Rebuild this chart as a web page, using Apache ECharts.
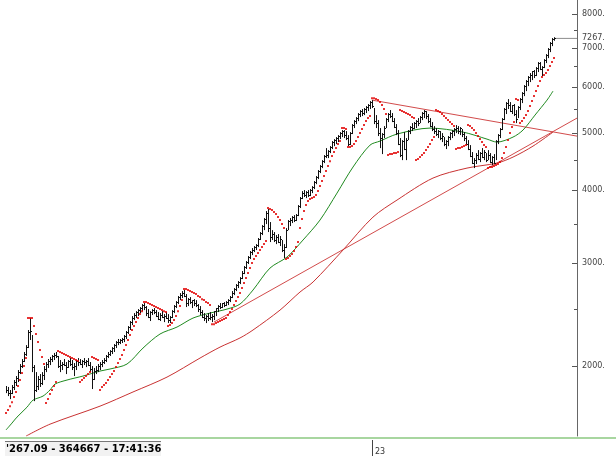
<!DOCTYPE html>
<html><head><meta charset="utf-8">
<script src="https://cdn.jsdelivr.net/npm/echarts@6.0.0/dist/echarts.min.js"></script>
<style>html,body{margin:0;padding:0;background:#fff}#c{width:616px;height:460px}</style>
</head><body><div id="c"></div>
<script>
// ---- data ----
const highs = [
1849,1842,1820,1856,1893,1923,1969,2016,2056,2114,
2172,2305,2416,2260,2008,1953,1923,1938,1953,2000,
2032,2056,2073,2089,2106,2114,2081,2048,2032,2056,
2032,2048,2064,2048,2024,2048,2064,2056,2048,2064,
2048,2064,2032,2000,1985,2000,2016,2032,2048,2064,
2089,2114,2130,2155,2181,2207,2225,2225,2234,2260,
2296,2341,2388,2435,2464,2483,2503,2523,2553,2563,
2533,2503,2483,2503,2513,2493,2474,2464,2483,2454,
2474,2454,2435,2493,2543,2583,2635,2666,2687,2698,
2656,2614,2624,2593,2603,2593,2553,2533,2493,2464,
2445,2464,2474,2454,2483,2513,2543,2563,2563,2573,
2583,2603,2635,2687,2719,2762,2795,2839,2908,2965,
3024,3084,3146,3183,3208,3233,3311,3390,3484,3582,
3682,3711,3526,3416,3390,3350,3363,3337,3285,3233,
3443,3554,3582,3610,3624,3639,3770,3891,3983,3999,
3983,3999,4015,4062,4144,4226,4327,4413,4500,4590,
4718,4681,4755,4850,4888,4927,4966,5025,5065,5065,
5045,4966,5025,5186,5268,5331,5416,5480,5502,5524,
5567,5611,5677,5699,5524,5373,5268,5105,5005,5145,
5310,5416,5480,5416,5310,5186,5065,4908,4869,5025,
4908,5065,5145,5206,5227,5268,5310,5352,5437,5480,
5459,5395,5310,5227,5145,5105,5065,5045,5005,4927,
4869,4947,5025,5065,5105,5165,5145,5125,5085,5025,
4947,4869,4774,4645,4536,4626,4681,4645,4718,4681,
4626,4681,4626,4572,4608,4869,4986,5105,5310,5524,
5655,5722,5655,5589,5611,5480,5567,5745,5882,6046,
6167,6265,6340,6390,6415,6491,6620,6620,6516,6698,
6831,6995,7163,7276,7300];
const lows = [
1798,1777,1756,1791,1820,1849,1878,1938,1985,2032,
2081,2147,2216,1953,1742,1806,1820,1842,1856,1893,
1953,1985,2008,2032,2048,2064,1985,1953,1969,2000,
1938,1985,2000,1969,1923,1969,2000,2008,1985,2008,
1992,2000,1953,1827,1893,1938,1953,1969,1992,2016,
2032,2064,2081,2097,2114,2147,2172,2181,2190,2198,
2225,2269,2305,2350,2397,2416,2435,2464,2483,2493,
2435,2416,2388,2445,2454,2426,2397,2388,2416,2378,
2407,2369,2369,2416,2464,2513,2553,2593,2614,2624,
2523,2533,2553,2513,2533,2523,2474,2445,2416,2388,
2369,2388,2397,2378,2397,2435,2474,2503,2513,2523,
2533,2543,2573,2614,2645,2687,2719,2762,2817,2873,
2931,2989,3048,3096,3133,3158,3195,3285,3350,3416,
3498,3390,3259,3285,3259,3233,3246,3208,3133,3060,
3183,3416,3471,3512,3526,3540,3610,3726,3860,3891,
3875,3891,3906,3952,4015,4094,4176,4276,4361,4448,
4536,4536,4626,4700,4755,4793,4831,4888,4927,4908,
4869,4755,4774,4986,5105,5186,5247,5331,5352,5373,
5416,5459,5502,5524,5186,5105,4947,4718,4608,4908,
5105,5227,5310,5227,5105,4966,4774,4554,4500,4681,
4500,4869,4986,5045,5085,5105,5145,5206,5268,5310,
5289,5206,5125,5045,4986,4947,4908,4869,4831,4755,
4700,4755,4869,4908,4947,5005,4986,4966,4927,4850,
4774,4681,4554,4431,4361,4431,4500,4465,4536,4500,
4465,4500,4448,4413,4431,4500,4793,4908,5065,5268,
5395,5502,5437,5395,5352,5206,5310,5480,5633,5790,
5905,6022,6119,6167,6216,6265,6365,6415,6265,6466,
6594,6724,6885,7050,7200];
const closes = [
1820,1800,1800,1840,1880,1910,1950,2000,2040,2100,
2160,2290,2300,1990,1820,1850,1900,1870,1930,1980,
2020,2040,2060,2080,2090,2080,2000,2010,2020,2010,
1990,2040,2020,1990,2000,2040,2030,2020,2040,2030,
2040,2010,1980,1900,1960,1970,2000,2020,2030,2050,
2080,2100,2120,2150,2170,2200,2200,2220,2225,2250,
2290,2330,2380,2420,2450,2470,2490,2510,2540,2520,
2460,2430,2470,2490,2470,2440,2410,2450,2430,2440,
2420,2400,2430,2480,2530,2570,2620,2650,2670,2640,
2560,2600,2570,2590,2560,2540,2500,2470,2430,2420,
2440,2420,2430,2440,2480,2510,2530,2520,2560,2540,
2570,2590,2630,2670,2710,2750,2780,2830,2890,2950,
3010,3070,3130,3160,3190,3220,3300,3380,3470,3570,
3660,3450,3320,3370,3280,3330,3260,3300,3160,3200,
3420,3540,3560,3590,3560,3630,3760,3870,3960,3920,
3970,3920,4000,4050,4130,4210,4310,4400,4480,4570,
4600,4670,4740,4830,4870,4900,4950,5010,5040,4960,
4900,4800,5000,5170,5250,5310,5400,5460,5420,5500,
5550,5590,5650,5560,5250,5200,5000,4900,4980,5100,
5290,5400,5350,5250,5130,5000,4800,4600,4850,4700,
4880,5050,5120,5100,5200,5250,5200,5330,5420,5460,
5350,5250,5150,5080,5050,4980,5040,4900,4950,4800,
4850,4930,5000,5050,5090,5100,5050,5100,4980,4900,
4800,4700,4580,4450,4500,4600,4520,4620,4560,4650,
4500,4600,4460,4550,4450,4850,4970,5090,5290,5500,
5640,5600,5450,5580,5400,5300,5550,5720,5860,6020,
6150,6250,6300,6380,6300,6480,6600,6450,6500,6680,
6820,6980,7150,7250,7267.09];
const sar = [
1662,1682,1708,1735,1770,1806,1849,1893,1946,2000,
2064,2416,2416,2416,2341,2269,2198,2130,2073,2016,
1729,1756,1791,1820,1849,1878,2122,2114,2106,2097,
2089,2081,2073,2064,2056,2048,2040,1878,1893,1908,
1923,1938,1953,2073,2064,2056,2048,1820,1842,1856,
1871,1893,1915,1938,1961,1992,2024,2056,2089,2130,
2172,2216,2260,2305,2341,2378,2416,2454,2483,2573,
2573,2563,2553,2543,2533,2523,2513,2503,2493,2483,
2474,2341,2350,2369,2397,2435,2483,2533,2593,2708,
2708,2698,2687,2677,2666,2656,2635,2624,2603,2593,
2573,2563,2543,2359,2359,2369,2378,2388,2397,2407,
2416,2445,2474,2503,2543,2583,2624,2666,2719,2773,
2828,2885,2942,3000,3048,3084,3121,3158,3195,3233,
3272,3726,3711,3696,3667,3639,3596,3554,3498,3443,
3048,3060,3084,3108,3146,3195,3259,3443,3568,3682,
3770,3830,3860,3875,3891,3921,3983,4062,4144,4226,
4310,4396,4482,4572,4645,4718,4793,4850,5105,5105,
5085,4737,4737,4755,4793,4850,4927,5005,5085,5165,
5247,5310,5352,5744,5744,5722,5699,5655,5589,5502,
5395,4590,4608,4608,4626,4626,4645,5480,5459,5437,
5416,5395,5373,5331,5310,4500,4518,4554,4590,4626,
4681,4737,4793,4869,4927,5480,5459,5437,5395,5352,
5310,5268,5227,5186,5145,4700,4718,4718,4737,4755,
4774,5165,5145,5105,5065,5005,4947,4888,4831,4774,
4737,4361,4379,4379,4396,4413,4431,4465,4536,4626,
4737,4869,5005,5125,5227,5722,5699,5206,5247,5310,
5373,5459,5567,5677,5790,5905,6022,6143,6240,6289,
6340,6415,6516,6620,6724];
// moving averages: [bar index, value]
const greenMA = [[0,1555],[3,1598],[5.5,1636],[10.5,1701],[13.5,1749],[18.5,1777],[22,1820],[24.5,1863],[30.5,1893],[38.5,1923],[47,1961],[52,1977],[60.5,2016],[68.5,2147],[77,2269],[85.5,2332],[93.5,2416],[102,2464],[110.5,2503],[117,2553],[123.5,2698],[132,2942],[140.5,3072],[148.5,3285],[157,3554],[165.5,3952],[173.5,4379],[182,4774],[187,4850],[195.5,4986],[212,5105],[228.5,5025],[240.5,4888],[245.5,4831],[253.5,4927],[258.5,5065],[264.5,5373],[270.5,5699],[273.5,5905]];
const redMA = [[10,1518],[22,1591],[47,1708],[63.5,1806],[80.5,1915],[97,2064],[107,2155],[117,2234],[123.5,2305],[137,2493],[147,2677],[153.5,2784],[168.5,3158],[183.5,3596],[195.5,3845],[213.5,4193],[230.5,4361],[245.5,4448],[253.5,4554],[263.5,4755],[273.5,5025]];
const trendUp = [[104,2378],[285.5,5310]];
const trendDown = [[183,5699],[285.5,4946]];
const lastClose = 7267.09;
const yLabelValues = [8000,7267.09,7000,6000,5000,4000,3000,2000];
const yMajorTicks = [8000,7000,6000,5000,4000,3000,2000];
const yMinorTicks = [7500,6500,5500,4500,3500,2500];
const xLabelIndex = 183;
const xLabelText = '23';
const footerText = "'267.09 - 364667 - 17:41:36";

// ---- chart ----
const YMIN = 1518.6, YMAX = 8453;
const L = v => Math.log10(v);
const N = highs.length;
const barData = highs.map((h, i) => [i, lows[i], h, closes[i]]);
const sarData = sar.map((v, i) => [i, v]);

const chart = echarts.init(document.getElementById('c'), null, {renderer: 'canvas'});
const lineS = (data, color, w, smooth) => ({
  type: 'line', data, yAxisIndex: 0, showSymbol: false, silent: true,
  smooth: smooth || false, lineStyle: {color, width: w}, z: 2
});
chart.setOption({
  animation: false,
  backgroundColor: '#fff',
  grid: {left: 5, top: 0, width: 572, height: 436},
  xAxis: {
    type: 'value', min: -0.5, max: 285.5, offset: 4,
    axisLine: {show: false}, splitLine: {show: false},
    axisTick: {show: true, customValues: [xLabelIndex], length: 16, lineStyle: {color: '#444'}},
    axisLabel: {show: true, customValues: [xLabelIndex], formatter: () => xLabelText,
      align: 'left', padding: [0, 0, 0, 3], margin: 8, fontSize: 8,
      fontFamily: 'DejaVu Sans', color: '#333'}
  },
  yAxis: [
    {type: 'log', logBase: 10, min: YMIN, max: YMAX, show: false},
    {type: 'value', min: L(YMIN), max: L(YMAX), position: 'right',
      axisLine: {show: true, lineStyle: {color: '#666', width: 1}},
      axisTick: {show: true, inside: true, length: 5, customValues: yMajorTicks.map(L), lineStyle: {color: '#555'}},
      axisLabel: {show: true, inside: false, margin: 5, customValues: yLabelValues.map(L),
        formatter: v => Math.round(Math.pow(10, v)) + '.', fontSize: 8,
        fontFamily: 'DejaVu Sans', color: '#444'},
      splitLine: {show: false}},
    {type: 'value', min: L(YMIN), max: L(YMAX), position: 'right',
      axisLine: {show: false},
      axisTick: {show: true, inside: true, length: 3, customValues: yMinorTicks.map(L), lineStyle: {color: '#555'}},
      axisLabel: {show: false}, splitLine: {show: false}}
  ],
  series: [
    lineS(trendUp, '#d24b4b', 1),
    lineS(trendDown, '#d24b4b', 1),
    lineS(redMA, '#c83232', 1, 0.3),
    lineS(greenMA, '#1f8a1f', 1, 0.3),
    lineS([[N - 1, lastClose], [285.5, lastClose]], '#8c8c8c', 1),
    {
      type: 'custom', yAxisIndex: 0, data: barData, z: 3, silent: true,
      renderItem: (params, api) => {
        const x = api.value(0);
        const lo = api.coord([x, api.value(1)]);
        const hi = api.coord([x, api.value(2)]);
        const cl = api.coord([x, api.value(3)]);
        const px = Math.round(lo[0]);
        const cy = Math.round(cl[1]) + 0.5;
        return {type: 'group', children: [
          {type: 'line', shape: {x1: px + 0.5, y1: lo[1], x2: px + 0.5, y2: hi[1]},
            style: {stroke: '#111', lineWidth: 1}},
          {type: 'line', shape: {x1: px + 1, y1: cy, x2: px + 2, y2: cy},
            style: {stroke: '#111', lineWidth: 1}}
        ]};
      }
    },
    {
      type: 'scatter', yAxisIndex: 0, data: sarData, symbol: 'rect', symbolSize: 2,
      itemStyle: {color: '#e10000'}, z: 4, silent: true
    }
  ],
  graphic: [
    {type: 'rect', shape: {x: 0, y: 437, width: 616, height: 2}, style: {fill: '#a8d6a0'}, silent: true},
    {type: 'rect', shape: {x: 5, y: 441, width: 156, height: 15}, style: {fill: '#f2f2f2', stroke: null}, silent: true},
    {type: 'rect', shape: {x: 5, y: 441, width: 156, height: 1}, style: {fill: '#777'}, silent: true},
    {type: 'text', x: 6, y: 449, style: {text: footerText, font: 'bold 10px "DejaVu Sans"', fill: '#000', verticalAlign: 'middle'}, silent: true}
  ]
});
</script></body></html>
